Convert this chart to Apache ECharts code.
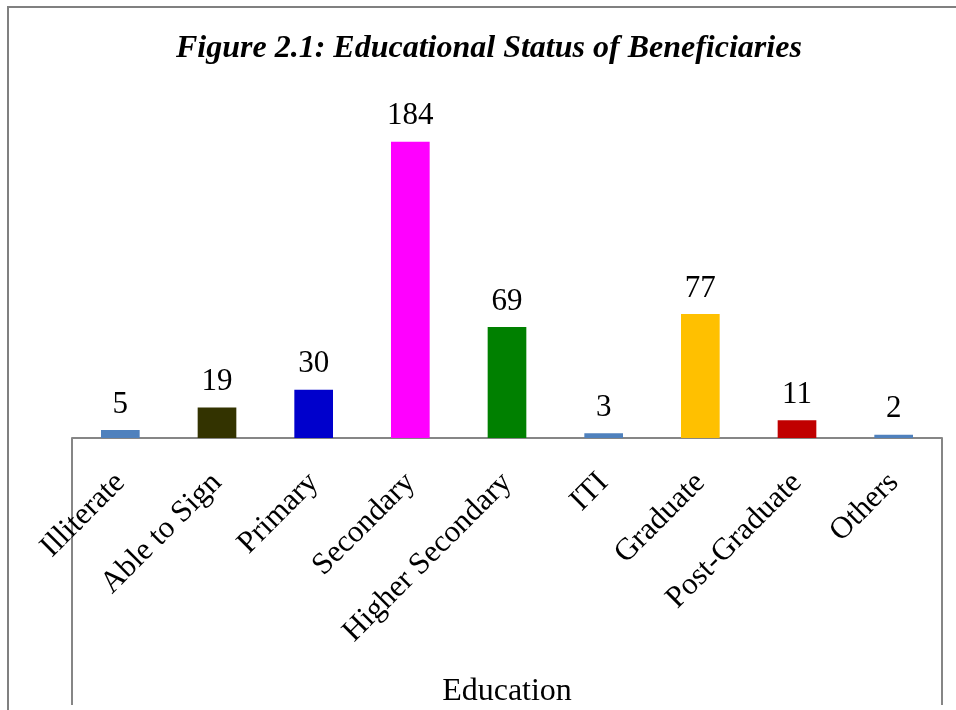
<!DOCTYPE html>
<html>
<head>
<meta charset="utf-8">
<script src="https://cdn.jsdelivr.net/npm/echarts@6/dist/echarts.min.js"></script>
<style>
  html, body { margin: 0; padding: 0; background: #fff; }
  #chart { width: 956px; height: 710px; }
</style>
</head>
<body>
<div id="chart"></div>
<script>
// data
const categories = ['Illiterate', 'Able to Sign', 'Primary', 'Secondary', 'Higher Secondary', 'ITI', 'Graduate', 'Post-Graduate', 'Others'];
const counts = [5, 19, 30, 184, 69, 3, 77, 11, 2];
const barColors = ['#4F81BD', '#333300', '#0000CC', '#FF00FF', '#008000', '#4F81BD', '#FFC000', '#C00000', '#4F81BD'];

const serif = '"Liberation Serif", "Times New Roman", serif';
const frameColor = '#868686';

const chart = echarts.init(document.getElementById('chart'));

const option = {
    backgroundColor: '#fff',
    animation: false,
    title: {
        text: 'Figure 2.1: Educational Status of Beneficiaries',
        left: 171,
        top: 28,
        textStyle: {
            fontFamily: serif,
            fontStyle: 'italic',
            fontWeight: 'bold',
            fontSize: 32,
            color: '#000'
        }
    },
    grid: {
        left: 72,
        right: 14,
        top: 116,
        bottom: 272,
        outerBoundsMode: 'none',
        containLabel: false
    },
    xAxis: {
        type: 'category',
        data: categories,
        name: 'Education',
        nameLocation: 'middle',
        nameGap: 238,
        nameTextStyle: {
            fontFamily: serif,
            fontSize: 32,
            color: '#000'
        },
        axisTick: { show: false },
        axisLine: {
            lineStyle: { color: frameColor, width: 2 }
        },
        axisLabel: {
            interval: 0,
            rotate: 45,
            margin: 40,
            fontFamily: serif,
            fontSize: 31,
            color: '#000'
        }
    },
    yAxis: {
        type: 'value',
        min: 0,
        max: 200,
        show: false,
        splitLine: { show: false }
    },
    series: [{
        type: 'bar',
        data: counts,
        barWidth: '40%',
        itemStyle: {
            color: (p) => barColors[p.dataIndex]
        },
        label: {
            show: true,
            position: 'top',
            distance: 10,
            fontFamily: serif,
            fontSize: 31,
            color: '#000'
        }
    }],
    graphic: [
        {
            // outer chart frame (only left and top edges inside the picture)
            type: 'rect',
            shape: { x: 8, y: 7, width: 1000, height: 1000 },
            style: { fill: 'none', stroke: '#808080', lineWidth: 2 },
            silent: true
        },
        {
            type: 'line',
            shape: { x1: 72, y1: 438, x2: 72, y2: 705 },
            style: { stroke: frameColor, lineWidth: 2 },
            silent: true
        },
        {
            type: 'line',
            shape: { x1: 942, y1: 438, x2: 942, y2: 705 },
            style: { stroke: frameColor, lineWidth: 2 },
            silent: true
        }
    ]
};

chart.setOption(option);
window.addEventListener('resize', () => { chart.resize() });
</script>
</body>
</html>
